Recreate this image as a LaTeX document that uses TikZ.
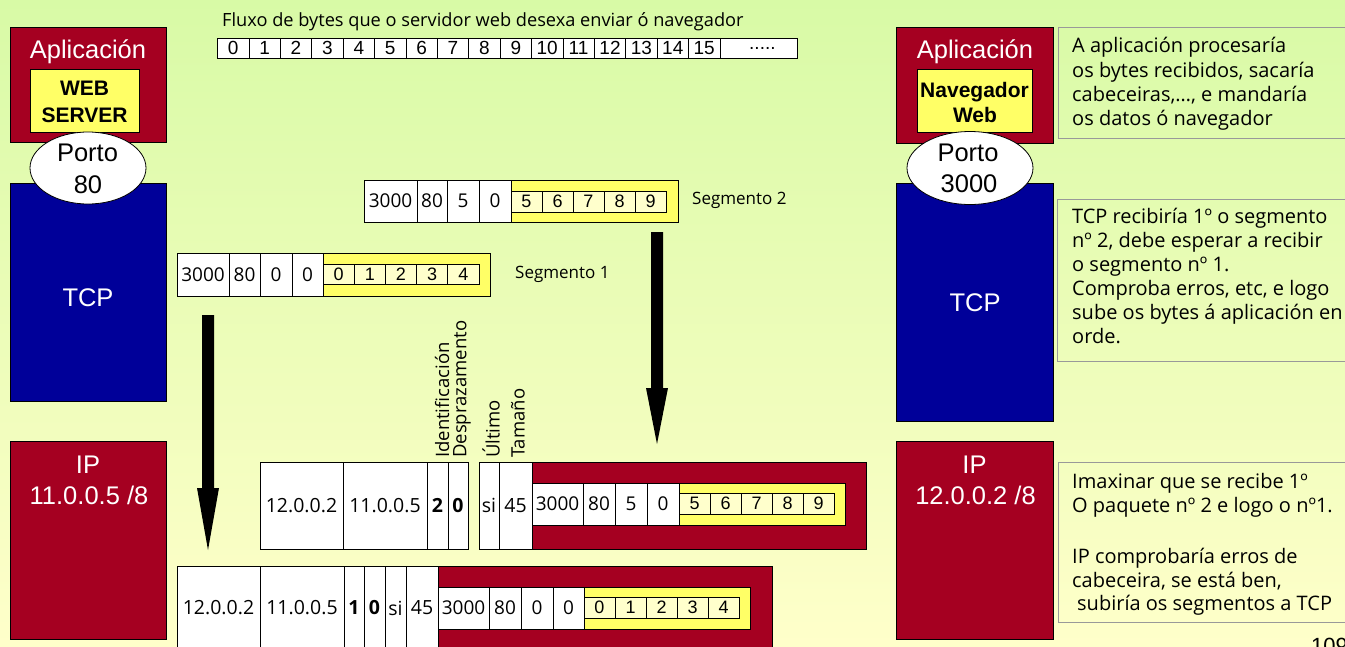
\documentclass[tikz,border=0pt]{standalone}
\usepackage{fontspec}
\setmainfont{Liberation Sans}
\newfontfamily\cfont{Open Sans}
\usetikzlibrary{shapes.geometric}
\definecolor{dred}{HTML}{A50021}
\definecolor{dblue}{HTML}{000099}
\definecolor{yel}{HTML}{FFFF66}
\definecolor{lyel}{HTML}{FFFFCC}
\definecolor{bgtop}{HTML}{D8FAA6}
\definecolor{bgbot}{HTML}{FFFFCA}
\definecolor{boxgray}{HTML}{999999}
\newcommand\cellN[7]{\node[#1, minimum width=#5pt, minimum height=#6pt] (#2) at (#3,#4) {#7};}
\newcommand\fsz[2]{\fontsize{#1}{#2}\selectfont}
\begin{document}
\begin{tikzpicture}[x=1pt,y=-1pt,
  box/.style={draw=black, line width=0.8pt, inner sep=0pt, outer sep=0pt, anchor=north west},
  rbox/.style={box, fill=dred},
  bbox/.style={box, fill=dblue},
  ybox/.style={box, fill=yel},
  lyc/.style={box, fill=lyel, font=\fsz{18}{18}},
  wc/.style={box, fill=white, font=\cfont\fsz{19}{19}},
  wcb/.style={box, fill=white, font=\cfont\bfseries\fsz{19.5}{19.5}},
  ipc/.style={box, fill=white, font=\cfont\fsz{19.5}{19.5}},
  topc/.style={box, fill=white, font=\fsz{19}{19}},
  note/.style={draw=boxgray, line width=0.8pt, inner sep=0pt, outer sep=0pt, anchor=north west},
  nline/.style={anchor=base west, inner sep=0pt, font=\cfont\fsz{20}{24}},
  wl/.style={anchor=base, inner sep=0pt, text=white, font=\fsz{25.5}{25.5}},
  yl/.style={anchor=base, inner sep=0pt, font=\bfseries\fsz{21}{21}},
  pl/.style={anchor=base, inner sep=0pt, font=\fsz{25.5}{25.5}},
  port/.style={ellipse, draw=black, line width=0.8pt, fill=white, inner sep=0pt},
  vl/.style={anchor=west, rotate=90, inner sep=0pt, font=\cfont\fsz{18.5}{18.5}},
  seg/.style={anchor=base west, inner sep=0pt, font=\cfont\fsz{17}{17}},
  blockarrow/.style={fill=black}
]
\useasboundingbox (0,0) rectangle (1345,646);
\clip (0,0) rectangle (1345,646);
\shade[top color=bgtop, bottom color=bgbot] (0,0) rectangle (1345,646);

% ---------- left host ----------
\cellN{rbox}{appL}{10}{27}{156}{115}{}
\node[wl] (appLt) at (88,58) {Aplicación};
\cellN{ybox}{webL}{30}{69}{109}{63}{}
\node[yl] (webLa) at (84.5,95) {WEB};
\node[yl] (webLb) at (84.5,122) {SERVER};
\cellN{bbox}{tcpL}{10}{183}{156}{218}{}
\node[wl] (tcpLt) at (88,306) {TCP};
\node[port, minimum width=116pt, minimum height=72pt] (portL) at (88,168) {};
\node[pl] (portLa) at (87.5,161) {Porto};
\node[pl] (portLb) at (88,193) {80};
\cellN{rbox}{ipL}{10}{441}{156}{198}{}
\node[wl] (ipLa) at (88,473) {IP};
\node[wl] (ipLb) at (89,504) {11.0.0.5 /8};

% ---------- right host ----------
\cellN{rbox}{appR}{896}{27}{157}{116}{}
\node[wl] (appRt) at (975,58) {Aplicación};
\cellN{ybox}{navR}{917}{69}{115}{63}{}
\node[yl] (navRa) at (974.5,97) {Navegador};
\node[yl] (navRb) at (975,122) {Web};
\cellN{bbox}{tcpR}{896}{183}{157}{238}{}
\node[wl] (tcpRt) at (975,311) {TCP};
\node[port, minimum width=126pt, minimum height=73pt] (portR) at (970,168) {};
\node[pl] (portRa) at (968,161) {Porto};
\node[pl] (portRb) at (969,192) {3000};
\cellN{rbox}{ipR}{896}{441}{157}{198}{}
\node[wl] (ipRa) at (974.5,473) {IP};
\node[wl] (ipRb) at (975.5,504) {12.0.0.2 /8};

% ---------- notes ----------
\node[note, minimum width=300pt, minimum height=111pt] (note1) at (1058,27) {};
\node[nline] (n1a) at (1072,52) {A aplicación procesaría};
\node[nline] (n1b) at (1072,77) {os bytes recibidos, sacaría};
\node[nline] (n1c) at (1072,101) {cabeceiras,…, e mandaría};
\node[nline] (n1d) at (1072,125) {os datos ó navegador};

\node[note, minimum width=300pt, minimum height=162pt] (note2) at (1057,199) {};
\node[nline] (n2a) at (1072,223) {TCP recibiría 1º o segmento};
\node[nline] (n2b) at (1072,247) {nº 2, debe esperar a recibir};
\node[nline] (n2c) at (1072,271) {o segmento nº 1.};
\node[nline] (n2d) at (1072,295) {Comproba erros, etc, e logo};
\node[nline] (n2e) at (1072,319) {sube os bytes á aplicación en};
\node[nline] (n2f) at (1072,343) {orde.};

\node[note, minimum width=300pt, minimum height=160pt] (note3) at (1058,462) {};
\node[nline] (n3a) at (1072,488) {Imaxinar que se recibe 1º};
\node[nline] (n3b) at (1072,512) {O paquete nº 2 e logo o nº1.};
\node[nline] (n3c) at (1072,563) {IP comprobaría erros de};
\node[nline] (n3d) at (1072,587) {cabeceira, se está ben,};
\node[nline] (n3e) at (1077,610) {subiría os segmentos a TCP};

% ---------- byte stream ----------
\node[anchor=base west, inner sep=0pt, font=\cfont\fsz{18.2}{18.2}] (flux) at (222,26)
  {Fluxo de bytes que o servidor web desexa enviar ó navegador};
\foreach \i in {0,...,15} {\node[topc, minimum width=31.4pt, minimum height=20pt] (top\i) at ({217.5+31.4*\i},38) {\i};}
\node[topc, minimum width=77pt, minimum height=20pt] (topdots) at (719.9,38) {\hspace*{8pt}.....};

% ---------- segment 2 ----------
\cellN{wc}{s2a}{364}{180}{53}{42}{3000}
\cellN{wc}{s2b}{417}{180}{30}{42}{80}
\cellN{wc}{s2c}{447}{180}{32}{42}{5}
\cellN{wc}{s2d}{479}{180}{32}{42}{0}
\cellN{ybox}{s2y}{511}{180}{167}{42}{}
\foreach \v [count=\k from 0] in {5,...,9} {\node[lyc, minimum width=31pt, minimum height=21pt] (s2k\k) at ({511+31*\k},191) {\v};}
\node[seg] (seg2) at (692,204) {Segmento 2};

% ---------- segment 1 ----------
\cellN{wc}{s1a}{177}{253}{52}{43}{3000}
\cellN{wc}{s1b}{229}{253}{31}{43}{80}
\cellN{wc}{s1c}{260}{253}{32}{43}{0}
\cellN{wc}{s1d}{292}{253}{31}{43}{0}
\cellN{ybox}{s1y}{323}{253}{167}{43}{}
\foreach \v [count=\k from 0] in {0,...,4} {\node[lyc, minimum width=31.2pt, minimum height=20pt] (s1k\k) at ({323+31.2*\k},264) {\v};}
\node[seg] (seg1) at (515,278) {Segmento 1};

% ---------- fragment 2 ----------
\cellN{ipc}{f2a}{260}{462}{83}{87}{12.0.0.2}
\cellN{ipc}{f2b}{343}{462}{84}{87}{11.0.0.5}
\cellN{wcb}{f2c}{427}{462}{21}{87}{2}
\cellN{wcb}{f2d}{448}{462}{20}{87}{0}
\cellN{ipc}{f2e}{479}{462}{20}{87}{si}
\cellN{ipc}{f2f}{499}{462}{33}{87}{45}
\cellN{rbox}{f2r}{532}{462}{334}{87}{}
\cellN{wc}{f2g}{532}{483}{51}{42}{3000}
\cellN{wc}{f2h}{583}{483}{32}{42}{80}
\cellN{wc}{f2i}{615}{483}{32}{42}{5}
\cellN{wc}{f2j}{647}{483}{32}{42}{0}
\cellN{ybox}{f2y}{679}{483}{166}{42}{}
\foreach \v [count=\k from 0] in {5,...,9} {\node[lyc, minimum width=31pt, minimum height=21pt] (f2k\k) at ({679+31*\k},493) {\v};}
\node[vl] (vid) at (442,458) {Identificación};
\node[vl] (vdes) at (462,458) {Desprazamento};
\node[vl] (vult) at (491,458) {Último};
\node[vl] (vtam) at (518,458) {Tamaño};

% ---------- fragment 1 ----------
\cellN{ipc}{f1a}{177}{566}{83}{84}{12.0.0.2}
\cellN{ipc}{f1b}{260}{566}{84}{84}{11.0.0.5}
\cellN{wcb}{f1c}{344}{566}{20}{84}{1}
\cellN{wcb}{f1d}{364}{566}{21}{84}{0}
\cellN{ipc}{f1e}{385}{566}{21}{84}{si}
\cellN{ipc}{f1f}{406}{566}{32}{84}{45}
\cellN{rbox}{f1r}{438}{566}{334}{84}{}
\cellN{wc}{f1g}{438}{587}{51}{42}{3000}
\cellN{wc}{f1h}{489}{587}{32}{42}{80}
\cellN{wc}{f1i}{521}{587}{32}{42}{0}
\cellN{wc}{f1j}{553}{587}{31}{42}{0}
\cellN{ybox}{f1y}{584}{587}{166}{42}{}
\foreach \v [count=\k from 0] in {0,...,4} {\node[lyc, minimum width=31pt, minimum height=21pt] (f1k\k) at ({584+31*\k},597) {\v};}

% ---------- arrows (block arrows: shaft + head) ----------
\coordinate (a1s) at (208,315);
\coordinate (a1h) at (208,488);
\coordinate (a1e) at (208,550);
\fill[blockarrow] ([xshift=-6pt]a1s) -- ([xshift=6pt]a1s) -- ([xshift=6pt]a1h) -- ([xshift=11pt]a1h)
  -- (a1e) -- ([xshift=-11pt]a1h) -- ([xshift=-6pt]a1h) -- cycle;
\coordinate (a2s) at (657,232);
\coordinate (a2h) at (657,388);
\coordinate (a2e) at (657,444);
\fill[blockarrow] ([xshift=-6pt]a2s) -- ([xshift=6pt]a2s) -- ([xshift=6pt]a2h) -- ([xshift=11pt]a2h)
  -- (a2e) -- ([xshift=-11pt]a2h) -- ([xshift=-6pt]a2h) -- cycle;

% ---------- page number ----------
\node[anchor=north west, inner sep=0pt, font=\fsz{22}{22}] (pnum) at (1311,638) {109};
\end{tikzpicture}
\end{document}
